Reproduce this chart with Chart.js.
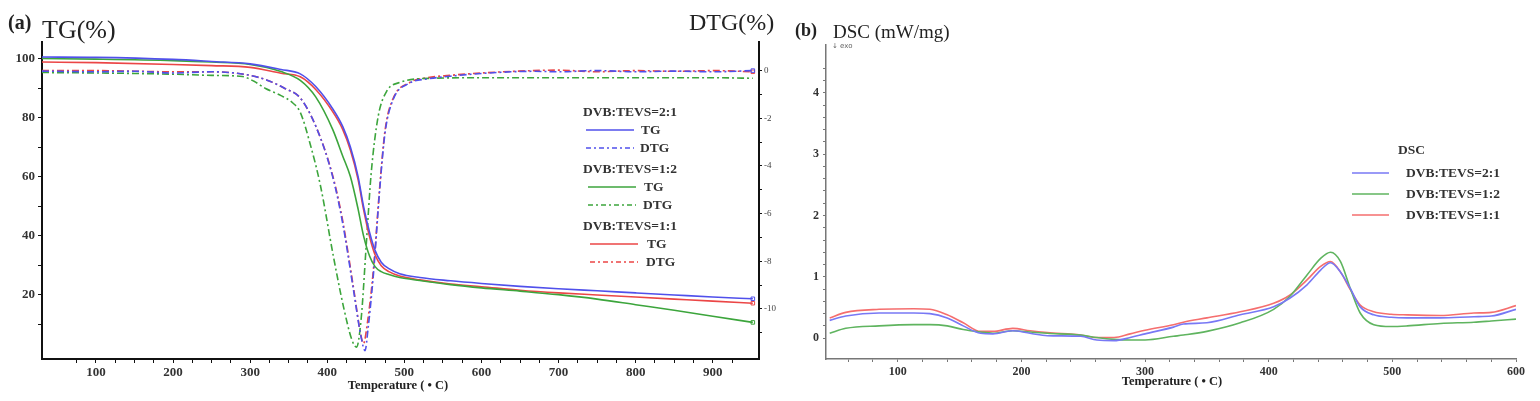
<!DOCTYPE html>
<html>
<head>
<meta charset="utf-8">
<script src="https://cdn.jsdelivr.net/npm/chart.js@4.4.0/dist/chart.umd.min.js"></script>
<style>
  body { margin: 0; background: #fff; width: 1540px; height: 401px; position: relative; overflow: hidden;
         font-family: "Liberation Serif", "DejaVu Serif", serif; color: #222; }
  .box { position: absolute; top: 0; }
  .t { position: absolute; white-space: nowrap; line-height: 1; }
</style>
</head>
<body>
<div class="box" style="left:0;width:790px;height:401px"><canvas id="tgChart" width="790" height="401"></canvas></div>
<div class="box" style="left:790px;width:750px;height:401px"><canvas id="dscChart" width="750" height="401"></canvas></div>

<script>
// ---- data ----
const seriesNames = ['DVB:TEVS=2:1', 'DVB:TEVS=1:2', 'DVB:TEVS=1:1'];

// (a) TG, %
const tgTemp = [30, 100, 200, 250, 300, 340, 365, 385, 407, 420, 430, 440, 447, 455, 462, 470, 480, 494, 520, 560, 600, 650, 700, 750, 800, 850, 900, 952];
const tg21 = [100.5, 100.4, 99.7, 99.0, 98.2, 96.3, 94.8, 90.5, 83.0, 77.0, 70.0, 60.0, 50.0, 41.0, 35.0, 31.0, 28.8, 27.1, 25.8, 24.7, 23.8, 22.8, 22.0, 21.3, 20.6, 19.9, 19.2, 18.6];
const tg12 = [100.0, 99.8, 99.3, 98.8, 98.0, 95.6, 92.6, 87.0, 76.0, 67.0, 60.0, 49.0, 40.0, 33.0, 29.5, 27.8, 26.8, 25.8, 24.8, 23.4, 22.3, 21.2, 20.0, 18.5, 16.6, 14.7, 12.7, 10.6];
const tg11 = [98.8, 98.6, 98.0, 97.6, 97.0, 95.0, 93.8, 89.5, 82.0, 76.0, 69.0, 59.0, 49.0, 39.5, 33.5, 29.8, 27.8, 26.3, 25.0, 23.6, 22.7, 21.5, 20.6, 19.9, 19.2, 18.5, 17.8, 17.1];

// (a) DTG, %
const dtgTemp21 = [30, 100, 150, 200, 250, 280, 300, 322, 345, 365, 386, 407, 420, 434, 444, 449, 453, 460, 468, 475, 485, 507, 530, 559, 600, 667, 700, 750, 800, 850, 900, 952];
const dtg21 = [-0.02, -0.05, -0.03, -0.1, -0.05, -0.1, -0.2, -0.4, -0.75, -1.15, -2.4, -4.45, -6.4, -9.2, -11.2, -11.75, -10.8, -8.5, -5.0, -2.6, -1.25, -0.52, -0.35, -0.24, -0.12, -0.03, -0.05, 0.0, -0.05, -0.02, -0.05, 0.0];
const dtgTemp12 = [30, 100, 150, 200, 250, 290, 305, 320, 340, 355, 365, 378, 391, 408, 421, 432, 438, 444, 451, 457, 466, 477, 494, 537, 600, 700, 800, 900, 952];
const dtg12 = [-0.08, -0.1, -0.12, -0.15, -0.2, -0.25, -0.45, -0.75, -1.05, -1.35, -1.75, -3.1, -4.8, -7.8, -9.9, -11.3, -11.6, -10.4, -7.1, -4.3, -1.93, -0.87, -0.5, -0.32, -0.3, -0.3, -0.3, -0.3, -0.32];
const dtgTemp11 = [30, 100, 200, 250, 280, 300, 322, 345, 365, 386, 407, 420, 434, 443, 447, 452, 460, 468, 475, 485, 507, 530, 559, 600, 667, 700, 750, 800, 850, 900, 952];
const dtg11 = [0.0, 0.0, -0.05, -0.05, -0.1, -0.2, -0.4, -0.75, -1.15, -2.4, -4.4, -6.3, -9.1, -11.0, -11.45, -10.6, -8.3, -4.9, -2.5, -1.2, -0.5, -0.3, -0.2, -0.1, 0.0, 0.02, -0.05, 0.0, -0.03, 0.0, -0.05];

// (b) DSC, mW/mg
const dscTemp = [45, 58, 85, 113, 126, 140, 153, 167, 177, 193, 207, 221, 248, 261, 275, 288, 300, 323, 331, 350, 377, 404, 417, 431, 442, 450, 458, 466, 474, 485, 499, 512, 539, 566, 580, 600];
const dsc21 = [0.29, 0.36, 0.41, 0.41, 0.40, 0.33, 0.20, 0.08, 0.07, 0.12, 0.08, 0.04, 0.03, -0.03, -0.04, 0.01, 0.07, 0.18, 0.23, 0.25, 0.38, 0.51, 0.65, 0.87, 1.11, 1.23, 1.08, 0.81, 0.51, 0.38, 0.34, 0.33, 0.33, 0.35, 0.36, 0.47];
const dsc12 = [0.08, 0.16, 0.20, 0.22, 0.22, 0.20, 0.14, 0.10, 0.08, 0.12, 0.10, 0.08, 0.05, 0.01, -0.02, -0.03, -0.03, 0.03, 0.05, 0.11, 0.25, 0.47, 0.68, 1.03, 1.30, 1.40, 1.25, 0.81, 0.41, 0.22, 0.19, 0.20, 0.24, 0.26, 0.28, 0.31];
const dsc11 = [0.33, 0.42, 0.47, 0.48, 0.47, 0.38, 0.25, 0.11, 0.11, 0.16, 0.12, 0.09, 0.05, 0.01, 0.01, 0.07, 0.13, 0.22, 0.26, 0.33, 0.43, 0.57, 0.70, 0.95, 1.17, 1.25, 1.08, 0.79, 0.54, 0.43, 0.39, 0.38, 0.37, 0.41, 0.42, 0.53];

const colA = ['rgb(80,80,235)', 'rgb(60,165,60)', 'rgb(235,70,70)'];
const colB = ['rgb(120,120,245)', 'rgb(95,180,95)', 'rgb(245,110,110)'];
const dashDot = [7, 3, 2, 3];

function pts(xs, ys) {
  return xs.map(function (x, i) { return { x: x, y: ys[i] }; });
}

// small square marker on the last point only, like the instrument export
function endMark(c) {
  return c.dataIndex === c.dataset.data.length - 1 ? 2.5 : 0;
}

function lineSet(label, xs, ys, color, axis, dash, mark) {
  return {
    label: label,
    data: pts(xs, ys),
    borderColor: color,
    borderWidth: 1.6,
    borderDash: dash || [],
    yAxisID: axis,
    fill: false,
    cubicInterpolationMode: 'monotone',
    pointStyle: 'rect',
    pointRadius: mark ? endMark : 0,
    pointBorderColor: color,
    pointBorderWidth: 1,
    pointBackgroundColor: 'rgba(255,255,255,0)'
  };
}

// keep only ticks that fall on the step (drop the odd min/max ticks)
function onStep(step) {
  return function (scale) {
    scale.ticks = scale.ticks.filter(function (t) {
      var r = t.value / step;
      return Math.abs(r - Math.round(r)) < 1e-6;
    });
  };
}

const tickFontA = { family: 'Liberation Serif', size: 13, weight: 'bold' };
const tickFontB = { family: 'Liberation Serif', size: 12, weight: 'bold' };

// ---- (a) TG / DTG ----
const ctxA = document.getElementById('tgChart').getContext('2d');
const tgChart = new Chart(ctxA, {
  type: 'line',
  data: {
    datasets: [
      lineSet('TG 2:1', tgTemp, tg21, colA[0], 'yTG', null, true),
      lineSet('TG 1:2', tgTemp, tg12, colA[1], 'yTG', null, true),
      lineSet('TG 1:1', tgTemp, tg11, colA[2], 'yTG', null, true),
      lineSet('DTG 2:1', dtgTemp21, dtg21, colA[0], 'yDTG', dashDot, true),
      lineSet('DTG 1:2', dtgTemp12, dtg12, colA[1], 'yDTG', dashDot, false),
      lineSet('DTG 1:1', dtgTemp11, dtg11, colA[2], 'yDTG', dashDot, true)
    ]
  },
  options: {
    responsive: false,
    animation: false,
    layout: { padding: { top: 42, left: 0, right: 0, bottom: 0 } },
    plugins: { legend: { display: false }, tooltip: { enabled: false } },
    scales: {
      x: {
        type: 'linear', min: 30, max: 960,
        afterFit: function (s) { s.height = 42; },
        afterBuildTicks: onStep(25),
        border: { display: true, color: '#111', width: 2 },
        grid: { drawOnChartArea: false, drawTicks: true, tickLength: 4, color: '#111' },
        ticks: { stepSize: 25, color: '#333', font: tickFontA, padding: 2, maxRotation: 0, autoSkip: false,
                 callback: function (v) { return v % 100 === 0 ? v : ''; } }
      },
      yTG: {
        type: 'linear', position: 'left', min: -1.8, max: 105.6,
        afterFit: function (s) { s.width = 42; },
        afterBuildTicks: onStep(10),
        border: { display: true, color: '#111', width: 2 },
        grid: { drawOnChartArea: false, drawTicks: true, tickLength: 4, color: '#111' },
        ticks: { stepSize: 10, color: '#333', font: tickFontA, padding: 3, autoSkip: false,
                 callback: function (v) { return (v > 0 && v % 20 === 0) ? v : ''; } }
      },
      yDTG: {
        type: 'linear', position: 'right', min: -12.1, max: 1.2,
        afterFit: function (s) { s.width = 31; },
        afterBuildTicks: onStep(1),
        border: { display: true, color: '#111', width: 2 },
        grid: { drawOnChartArea: false, drawTicks: true, tickLength: 3, color: '#111' },
        ticks: { stepSize: 1, color: '#444', font: { family: 'Liberation Serif', size: 9 }, padding: 2, autoSkip: false,
                 callback: function (v) { return Math.round(v) % 2 === 0 && v <= 0 ? v : ''; } }
      }
    }
  }
});

// ---- (b) DSC ----
const ctxB = document.getElementById('dscChart').getContext('2d');
const dscChart = new Chart(ctxB, {
  type: 'line',
  data: {
    datasets: [
      lineSet(seriesNames[0], dscTemp, dsc21, colB[0], 'y', null, false),
      lineSet(seriesNames[1], dscTemp, dsc12, colB[1], 'y', null, false),
      lineSet(seriesNames[2], dscTemp, dsc11, colB[2], 'y', null, false)
    ]
  },
  options: {
    responsive: false,
    animation: false,
    layout: { padding: { top: 45, left: 0, right: 24, bottom: 0 } },
    plugins: { legend: { display: false }, tooltip: { enabled: false } },
    scales: {
      x: {
        type: 'linear', min: 42, max: 600,
        afterFit: function (s) { s.height = 42; },
        afterBuildTicks: onStep(20),
        border: { display: true, color: '#777', width: 1.5 },
        grid: { drawOnChartArea: false, drawTicks: true, tickLength: 3, color: '#777' },
        ticks: { stepSize: 20, color: '#333', font: tickFontB, padding: 3, maxRotation: 0, autoSkip: false,
                 callback: function (v) { return v % 100 === 0 ? v : ''; } }
      },
      y: {
        type: 'linear', min: -0.34, max: 4.78,
        afterFit: function (s) { s.width = 36; },
        afterBuildTicks: onStep(0.2),
        border: { display: true, color: '#777', width: 1.5 },
        grid: { drawOnChartArea: false, drawTicks: true, tickLength: 3, color: '#777' },
        ticks: { stepSize: 0.2, color: '#333', font: tickFontB, padding: 4, autoSkip: false,
                 callback: function (v) { var r = Math.round(v); return Math.abs(v - r) < 1e-6 ? r : ''; } }
      }
    }
  }
});

// ---- titles and legends as page text ----
function addText(txt, x, y, css) {
  var d = document.createElement('div');
  d.className = 't';
  d.textContent = txt;
  d.style.left = x + 'px';
  d.style.top = y + 'px';
  if (css) d.style.cssText += css;
  document.body.appendChild(d);
  return d;
}

function addSwatch(x, y, w, color, dash) {
  var ns = 'http://www.w3.org/2000/svg';
  var svg = document.createElementNS(ns, 'svg');
  svg.setAttribute('width', w);
  svg.setAttribute('height', 4);
  svg.style.position = 'absolute';
  svg.style.left = x + 'px';
  svg.style.top = (y - 2) + 'px';
  var l = document.createElementNS(ns, 'line');
  l.setAttribute('x1', 0); l.setAttribute('x2', w);
  l.setAttribute('y1', 2); l.setAttribute('y2', 2);
  l.setAttribute('stroke', color);
  l.setAttribute('stroke-width', 1.6);
  if (dash) l.setAttribute('stroke-dasharray', dash.join(' '));
  svg.appendChild(l);
  document.body.appendChild(svg);
}

addText('(a)', 8, 12, 'font-size:20px;font-weight:bold;');
addText('TG(%)', 42, 17, 'font-size:26px;');
addText('DTG(%)', 689, 10, 'font-size:24px;');
addText('Temperature ( \u2022 C)', 398, 379, 'font-size:12.5px;font-weight:bold;transform:translateX(-50%);');

addText('(b)', 795, 21, 'font-size:18px;font-weight:bold;');
addText('DSC (mW/mg)', 833, 22, 'font-size:19px;');
addText('\u2193 exo', 832, 43, 'font-size:7px;color:#666;font-family:DejaVu Sans,sans-serif;');
addText('Temperature ( \u2022 C)', 1172, 375, 'font-size:12.5px;font-weight:bold;transform:translateX(-50%);');

// legend (a): one header per ratio, then TG (solid) and DTG (dash-dot)
var legA = [112, 169, 226];
for (var i = 0; i < 3; i++) {
  var y0 = legA[i];
  addText(seriesNames[i], 583, y0 - 7, 'font-size:13.5px;font-weight:bold;color:#333;');
  addSwatch(586 + i * 2, y0 + 18, 48, colA[i], null);
  addText('TG', 641 + i * 3, y0 + 11, 'font-size:13.5px;font-weight:bold;color:#333;');
  addSwatch(586 + i * 2, y0 + 36, 48, colA[i], [5, 3, 2, 3]);
  addText('DTG', 640 + i * 3, y0 + 29, 'font-size:13.5px;font-weight:bold;color:#333;');
}

// legend (b)
addText('DSC', 1398, 143, 'font-size:13.5px;font-weight:bold;color:#333;');
var legB = [173, 194, 215];
for (var j = 0; j < 3; j++) {
  addSwatch(1352, legB[j], 37, colB[j], null);
  addText(seriesNames[j], 1406, legB[j] - 7, 'font-size:13.5px;font-weight:bold;color:#333;');
}
</script>
</body>
</html>
